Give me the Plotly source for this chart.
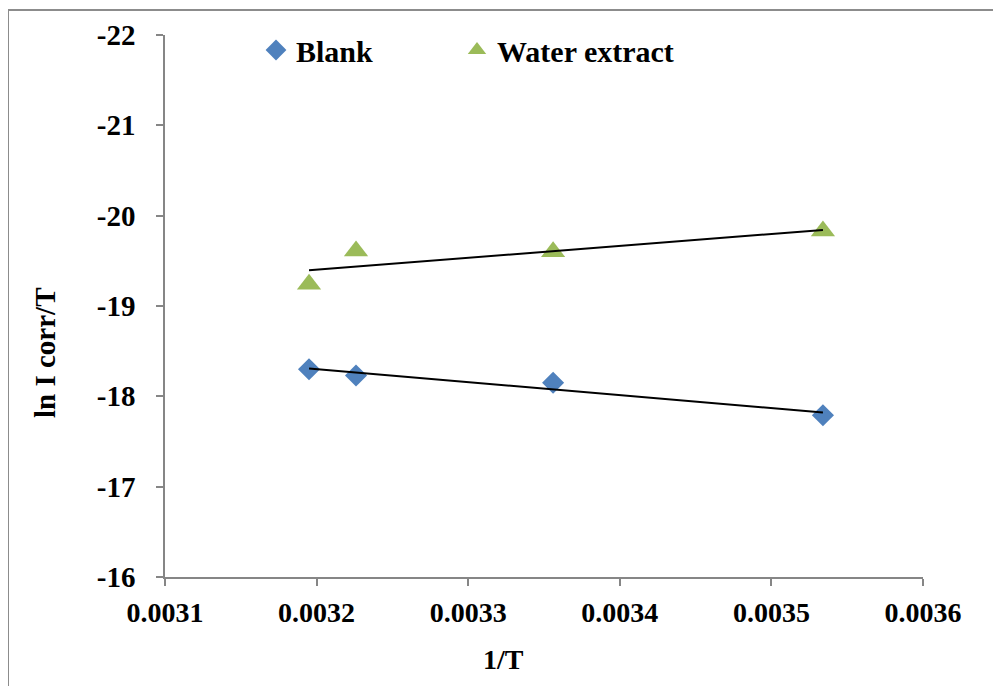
import numpy as np
import plotly.graph_objects as go

inv_T = [0.003195, 0.003226, 0.003356, 0.003534]
blank = [-18.30, -18.23, -18.15, -17.79]
water = [-19.24, -19.61, -19.60, -19.83]

x_ticks = [0.0031, 0.0032, 0.0033, 0.0034, 0.0035, 0.0036]
x_ticktext = ["0.0031", "0.0032", "0.0033", "0.0034", "0.0035", "0.0036"]
y_ticks = [-16, -17, -18, -19, -20, -21, -22]
y_ticktext = ["-16", "-17", "-18", "-19", "-20", "-21", "-22"]

FONT = "Liberation Serif, Times New Roman, serif"
AXC = "#868686"

# page body has an 8px margin; compensate so the plot lands where the reference has it
OFF = 8
L, R, T, B = 165 - OFF, 923 - OFF, 35 - OFF, 577 - OFF
W, H = 1001 - OFF, 686 - OFF
PW, PH = R - L, B - T


def px(xp):
    return (xp - OFF - L) / PW


def py(yp):
    return (B - (yp - OFF)) / PH


fig = go.Figure()

fig.add_trace(go.Scatter(x=inv_T, y=blank, mode="markers", name="Blank", legend="legend",
                         marker=dict(symbol="diamond", size=17, color="#4F81BD")))
fig.add_trace(go.Scatter(x=inv_T, y=water, mode="markers", name="Water extract",
                         legend="legend2",
                         marker=dict(symbol="triangle-up", size=21, color="#9BBB59")))

# linear trendlines
xs = np.array([min(inv_T), max(inv_T)])
for ys in (blank, water):
    m, c = np.polyfit(inv_T, ys, 1)
    fig.add_trace(go.Scatter(x=xs, y=m * xs + c, mode="lines", showlegend=False,
                             line=dict(color="black", width=2), hoverinfo="skip"))

legend_font = dict(family=FONT, size=30, color="black", weight="bold")

fig.update_layout(
    width=W, height=H,
    margin=dict(l=L, r=W - R, t=T, b=H - B),
    paper_bgcolor="white", plot_bgcolor="white",
    font=dict(family=FONT, color="black"),
    showlegend=True,
    legend=dict(orientation="h", x=px(256), y=py(50), xanchor="left", yanchor="middle",
                font=legend_font, itemwidth=30, bgcolor="rgba(0,0,0,0)"),
    legend2=dict(orientation="h", x=px(457), y=py(50), xanchor="left", yanchor="middle",
                 font=legend_font, itemwidth=30, bgcolor="rgba(0,0,0,0)"),
    xaxis=dict(range=[0.0031, 0.0036], tickvals=x_ticks, ticktext=x_ticktext,
               showgrid=False, zeroline=False, showline=True, linecolor=AXC, linewidth=1.5,
               ticks="outside", ticklen=7, tickcolor=AXC, tickwidth=1.5,
               ticklabelstandoff=3,
               tickfont=dict(family=FONT, size=28, color="black", weight="bold")),
    yaxis=dict(range=[-16, -22], tickvals=y_ticks, ticktext=y_ticktext,
               showgrid=False, zeroline=False, showline=True, linecolor=AXC, linewidth=1.5,
               ticks="outside", ticklen=7, tickcolor=AXC, tickwidth=1.5,
               ticklabelstandoff=15,
               tickfont=dict(family=FONT, size=29, color="black", weight="bold")),
    annotations=[
        dict(text="1/T", xref="paper", yref="paper", x=px(503), y=py(659),
             xanchor="center", yanchor="middle", showarrow=False,
             font=dict(family=FONT, size=28, color="black", weight="bold")),
        dict(text="ln I corr/T", xref="paper", yref="paper", x=px(45), y=py(352),
             textangle=-90, xanchor="center", yanchor="middle",
             showarrow=False, font=dict(family=FONT, size=29, color="black", weight="bold")),
    ],
    shapes=[
        dict(type="rect", xref="paper", yref="paper",
             x0=px(8), x1=px(1020), y0=py(720), y1=py(10),
             line=dict(color="#8c8c8c", width=2), fillcolor="rgba(0,0,0,0)", layer="below"),
    ],
)

fig.write_html("out.html")
